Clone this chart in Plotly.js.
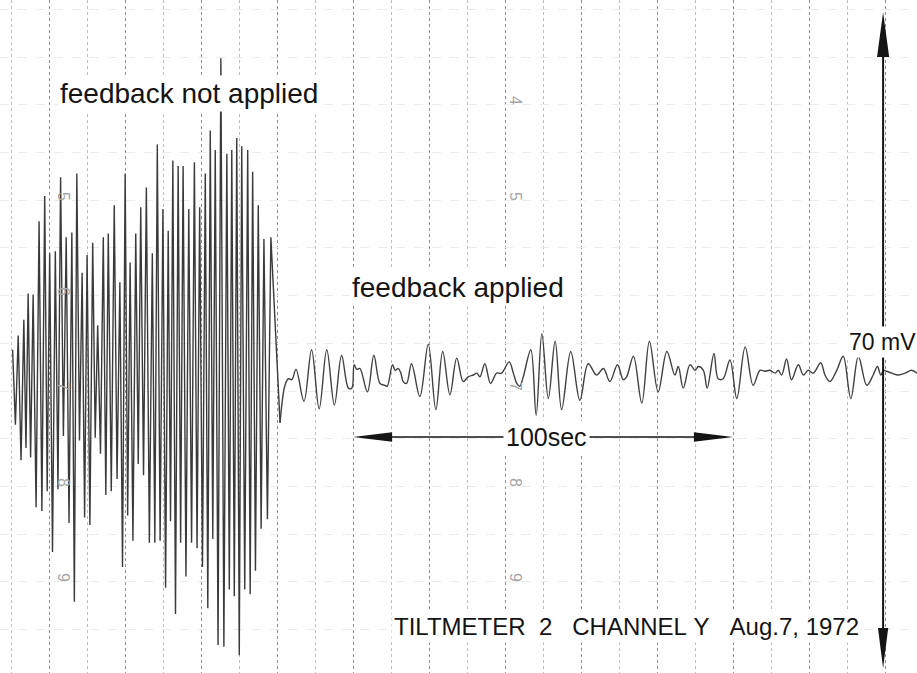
<!DOCTYPE html>
<html>
<head>
<meta charset="utf-8">
<script src="https://cdn.plot.ly/plotly-3.0.1.min.js"></script>
<style>html,body{margin:0;padding:0;background:#fff;}#chart{width:917px;height:673px;}</style>
</head>
<body>
<div id="chart"></div>
<script>
// ---- data read from the recording (time in seconds, signal in mV) ----
// feedback not applied: successive maxima and minima of the pen trace
const burstTopT = [-9.58,-8.10,-6.62,-5.49,-4.18,-2.61,-1.13,0.18,1.66,3.05,4.53,6.01,7.32,8.72,10.02,11.50,12.81,14.29,15.60,17.17,18.65,20.04,21.35,22.83,24.14,25.62,27.19,28.50,29.98,31.37,32.59,33.99,35.29,36.78,38.26,39.65,41.13,42.44,43.75,45.23,46.80,48.10,49.41,50.72,52.29,53.59,55.07,56.56,58.39];
const burstTopMv = [2.7,4.2,5.9,8.7,8.6,16.4,19.1,13.0,13.2,21.1,14.7,15.2,21.5,10.9,12.8,14.1,5.3,14.7,15.1,18.1,9.9,21.5,12.0,15.1,17.9,20.0,13.0,24.6,17.7,15.4,22.9,22.3,22.3,17.7,22.7,17.9,21.5,26.1,24.0,33.8,23.6,24.0,25.3,24.4,24.0,21.7,18.1,14.5,14.7];
const burstLowT = [-8.84,-7.36,-6.06,-4.84,-3.40,-1.87,-0.48,0.92,2.36,3.79,5.27,6.67,8.02,9.37,10.76,12.16,13.55,14.95,16.39,17.91,19.35,20.70,22.09,23.49,24.88,26.41,27.85,29.24,30.68,31.98,33.29,34.64,36.04,37.52,38.96,40.39,41.79,43.10,44.49,46.02,47.45,48.76,50.07,51.51,52.94,54.33,55.82,57.48];
const burstLowMv = [-5.3,-9.1,-7.8,-8.8,-14.1,-14.5,-12.4,-18.9,-12.2,-6.5,-15.8,-24.2,-7.0,-15.2,-16.0,-6.7,-8.4,-12.8,-12.4,-11.1,-20.5,-15.0,-17.7,-9.5,-10.7,-17.9,-17.9,-17.7,-22.7,-15.6,-25.5,-17.9,-21.5,-17.9,-18.5,-20.5,-24.9,-17.5,-28.8,-29.0,-22.9,-23.6,-29.9,-22.9,-23.4,-20.9,-16.4,-15.4];
// feedback applied
const calmT = [60.8,62.1,63.0,63.9,65.0,67.1,69.1,71.1,73.1,75.1,77.0,78.8,79.7,80.3,81.0,81.8,83.8,85.5,87.1,88.4,89.0,90.4,91.1,91.9,92.6,93.2,94.1,95.4,97.6,99.8,101.8,103.6,105.5,107.3,109.0,110.3,111.7,112.6,113.4,114.7,116.2,117.8,119.1,121.1,122.2,123.1,123.9,124.8,126.8,128.2,129.7,131.4,133.2,134.9,137.3,139.7,141.9,144.1,145.9,147.6,149.6,151.1,152.0,153.8,156.0,158.0,160.3,162.6,164.7,165.6,166.9,168.7,170.0,170.9,172.2,173.2,175.0,176.1,177.4,179.2,181.0,183.2,185.3,187.1,188.4,189.7,191.1,191.9,192.8,194.1,195.4,197.2,198.5,199.8,201.1,203.1,204.2,205.5,207.3,209.0,211.0,213.0,215.2,216.9,218.0,218.9,219.6,220.4,221.8,223.5,225.3,227.0,228.4];
const calmMv = [-5.1,-1.1,-0.4,-0.5,0.6,-2.8,2.7,-3.6,2.7,-3.2,2.1,-1.4,-1.4,1.1,0.6,0.7,-1.8,2.1,-0.9,-1.1,-1.2,1.1,0.5,0.7,0.2,-0.7,-0.9,1.2,-2.3,3.3,-3.7,2.5,-2.1,1.8,-0.7,-0.2,0,0.2,-0.2,1.2,-0.9,0.2,0.2,1.4,0.2,-0.9,-1.2,-0.2,2.7,-4.3,4.4,-2.5,3.6,-3.7,2.5,-2.7,1.2,0,0.7,-0.7,1.1,-0.5,-0.2,2.0,-3.0,3.6,-1.8,2.5,0,0.9,-1.4,1.1,0.5,0.9,0.5,-1.4,2.3,-0.4,-0.4,1.6,-2.5,3.0,-1.1,0.5,0.4,0.5,0.2,0.5,0,1.7,-0.5,1.1,0,0.5,0.2,1.3,0,-0.7,0.5,2.0,-2.5,2.0,-1.1,0,0.9,0,0.5,0.4,0.2,0,0.2,0.5,0.2];
// scale markers
const timeMarkStart = 80, timeMarkEnd = 180;      // 100 sec arrow
const voltMarkTop = 38.7, voltMarkBottom = -31.3;   // 70 mV arrow
const voltMarkTime = 219.5;
// chart paper numbering (rotated digits)
const paperDigits = ['4','5','6','7','8','9'];
// labels
const labelNotApplied = 'feedback not applied';
const labelApplied = 'feedback applied';
const labelVolt = '70 mV';
const labelTime = '100sec';
const labelTitle = 'TILTMETER\u00a0\u00a02\u00a0\u00a0\u00a0CHANNEL\u00a0Y\u00a0\u00a0\u00a0Aug.7,\u00a01972';

// ---- layout helpers (page pixels -> axis units) ----
const W = 917, H = 673;
const tx = p => (p - 49) / 3.8;
const vy = p => (375 - p) / 9.371;

// build burst sequence: top, low, top, low ... top, then first calm point
const bx = [], by = [];
for (let i = 0; i < burstTopT.length; i++) {
  bx.push(burstTopT[i]); by.push(burstTopMv[i]);
  if (i < burstLowT.length) { bx.push(burstLowT[i]); by.push(burstLowMv[i]); }
}
bx.push(calmT[0]); by.push(calmMv[0]);

const traces = [
  {x: bx, y: by, mode: 'lines', line: {color: '#3a3a3a', width: 1.4}, hoverinfo: 'skip'},
  {x: calmT, y: calmMv, mode: 'lines', line: {color: '#404040', width: 1.4, shape: 'spline', smoothing: 1}, hoverinfo: 'skip'}
];

const font = 'Liberation Sans, Arial, sans-serif';
const annotations = [];
const digitRows = [100, 196, 291, 386, 482, 577];
[64, 516].forEach(col => {
  paperDigits.forEach((d, i) => {
    annotations.push({x: tx(col), y: vy(digitRows[i]), text: d, showarrow: false, textangle: 90,
      font: {family: font, size: 16, color: '#a6a6a6'}});
  });
});
const txtBox = (px, py, text, size) => ({x: tx(px), y: vy(py), text: text, showarrow: false,
  font: {family: font, size: size, color: '#141414'}, bgcolor: '#ffffff', borderpad: 2});
annotations.push(txtBox(189, 93, labelNotApplied, 28));
annotations.push(txtBox(458, 287, labelApplied, 28));
annotations.push(txtBox(882, 342, labelVolt, 23));
annotations.push(txtBox(546, 437, labelTime, 25));
annotations.push(txtBox(626, 626, labelTitle, 24));

const yT = vy(437);
const hh = 0.52;
const shapes = [
  {type: 'line', xref: 'x', yref: 'y', x0: timeMarkStart + 5, x1: timeMarkEnd - 5, y0: yT, y1: yT, line: {color: '#151515', width: 1.6}},
  {type: 'path', xref: 'x', yref: 'y', path: `M ${timeMarkStart} ${yT} L ${timeMarkStart + 10.3} ${yT + hh} L ${timeMarkStart + 10.3} ${yT - hh} Z`, fillcolor: '#151515', line: {width: 0}},
  {type: 'path', xref: 'x', yref: 'y', path: `M ${timeMarkEnd} ${yT} L ${timeMarkEnd - 10.3} ${yT + hh} L ${timeMarkEnd - 10.3} ${yT - hh} Z`, fillcolor: '#151515', line: {width: 0}},
  {type: 'line', xref: 'x', yref: 'y', x0: voltMarkTime, x1: voltMarkTime, y0: voltMarkTop - 3, y1: voltMarkBottom + 3, line: {color: '#151515', width: 2}},
  {type: 'path', xref: 'x', yref: 'y', path: `M ${voltMarkTime} ${voltMarkTop} L ${voltMarkTime - 1.6} ${vy(57)} L ${voltMarkTime + 1.6} ${vy(57)} Z`, fillcolor: '#151515', line: {width: 0}},
  {type: 'path', xref: 'x', yref: 'y', path: `M ${voltMarkTime} ${voltMarkBottom} L ${voltMarkTime - 1.35} ${vy(628)} L ${voltMarkTime + 1.35} ${vy(628)} Z`, fillcolor: '#151515', line: {width: 0}}
];

const layout = {
  width: W, height: H,
  margin: {l: 0, r: 0, t: 0, b: 0, pad: 0},
  paper_bgcolor: '#ffffff', plot_bgcolor: '#ffffff',
  showlegend: false,
  xaxis: {range: [tx(0), tx(W)], showticklabels: false, ticks: '', zeroline: false, showline: false,
    showgrid: true, tick0: 0, dtick: 20, gridcolor: '#8e8e8e', gridwidth: 1, griddash: 'dot',
    minor: {tick0: 0, dtick: 10, showgrid: true, gridcolor: '#bcbcbc', gridwidth: 1, griddash: 'dot'}},
  yaxis: {range: [vy(H), vy(0)], showticklabels: false, ticks: '', zeroline: false, showline: false,
    showgrid: true, tick0: vy(391), dtick: 47.7 / 9.371, gridcolor: '#ececec', gridwidth: 1, griddash: 'dash'},
  annotations: annotations,
  shapes: shapes
};

Plotly.newPlot('chart', traces, layout, {displayModeBar: false, staticPlot: true});
</script>
</body>
</html>
